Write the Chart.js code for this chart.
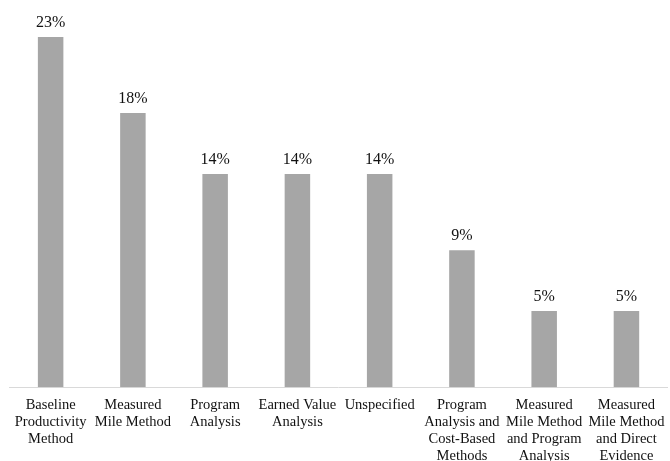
<!DOCTYPE html>
<html>
<head>
<meta charset="utf-8">
<script src="https://cdn.jsdelivr.net/npm/chart.js@4/dist/chart.umd.min.js"></script>
<style>
  html, body { margin: 0; padding: 0; background: #fff; overflow: hidden; }
  #wrap { width: 670px; height: 461px; overflow: hidden; }
</style>
</head>
<body>
<div id="wrap"><canvas id="c" width="674" height="474"></canvas></div>
<script>
const categories = [
  ["Baseline", "Productivity", "Method"],
  ["Measured", "Mile Method"],
  ["Program", "Analysis"],
  ["Earned Value", "Analysis"],
  ["Unspecified"],
  ["Program", "Analysis and", "Cost-Based", "Methods"],
  ["Measured", "Mile Method", "and Program", "Analysis"],
  ["Measured", "Mile Method", "and Direct", "Evidence"]
];
const shares = [23, 18, 14, 14, 14, 9, 5, 5];

const serif = "'Liberation Serif', 'Times New Roman', serif";

// Percentage labels above each bar
const valueLabels = {
  id: 'valueLabels',
  afterDatasetsDraw(chart) {
    const ctx = chart.ctx;
    const meta = chart.getDatasetMeta(0);
    ctx.save();
    ctx.font = "16px " + serif;
    ctx.fillStyle = '#111';
    ctx.textAlign = 'center';
    ctx.textBaseline = 'bottom';
    meta.data.forEach((bar, i) => {
      ctx.fillText(shares[i] + '%', bar.x, bar.y - 6);
    });
    ctx.restore();
  }
};

new Chart(document.getElementById('c'), {
  type: 'bar',
  data: {
    labels: categories,
    datasets: [{
      data: shares,
      backgroundColor: '#a6a6a6',
      barPercentage: 0.31,
      categoryPercentage: 1.0
    }]
  },
  options: {
    responsive: false,
    animation: false,
    layout: { padding: { top: 37, left: 9.5, right: 0, bottom: 0 } },
    plugins: { legend: { display: false }, tooltip: { enabled: false } },
    scales: {
      y: { display: false, min: 0, max: 23 },
      x: {
        grid: { display: false, drawTicks: false },
        border: { display: true, color: '#d9d9d9', width: 1 },
        ticks: {
          color: '#111',
          font: { family: serif, size: 14.5, lineHeight: 1.17 },
          maxRotation: 0,
          autoSkip: false,
          padding: 9.5
        }
      }
    }
  },
  plugins: [valueLabels]
});
</script>
</body>
</html>
